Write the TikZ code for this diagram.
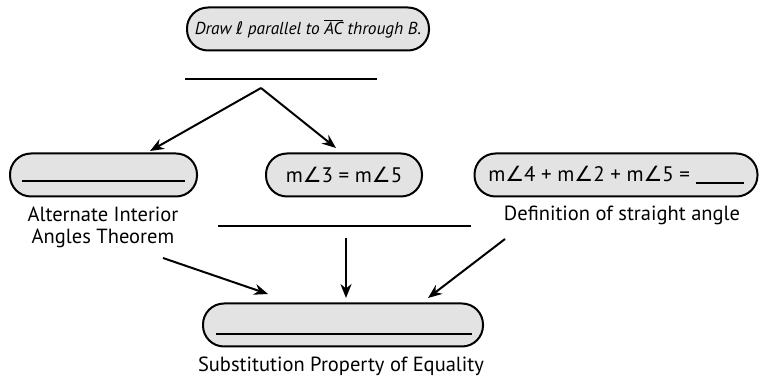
\documentclass[tikz,border=0pt]{standalone}
\usepackage{fontspec}
\setmainfont{PT Sans}
\newfontfamily\symf{DejaVu Sans}
\usetikzlibrary{arrows.meta}
\newcommand{\ang}{{\symf ∠}}
\begin{document}
\begin{tikzpicture}[x=1pt,y=-1pt,
  box/.style={draw,line width=2pt,fill=gray!22,rounded corners=21pt,minimum height=43pt,inner sep=0pt,font=\fontsize{21}{23}\selectfont},
  lbl/.style={align=center,inner sep=0pt,font=\fontsize{20.5}{22}\selectfont},
  blank/.style={line width=1.6pt},
  arr/.style={line width=2pt,-{Stealth[length=14pt,width=11pt]}}]
\useasboundingbox (0,0) rectangle (761,379);
% top
\node[box,minimum width=242pt,font=\fontsize{17.3}{20}\selectfont] (top) at (308,29) {\itshape Draw {\symf\itshape ℓ} parallel to $\overline{\mbox{\itshape AC}}$ through B.};
\coordinate (t1) at (185,79); \coordinate (t2) at (377,79);
\draw[blank] (t1) -- (t2);
\coordinate (apex) at (261,88);
% left box
\node[box,minimum width=187pt] (lb) at (103.5,175) {};
\coordinate (l1) at (22,181); \coordinate (l2) at (185,181);
\draw[blank] (l1) -- (l2);
\node[lbl] (ll) at (103,227) {Alternate Interior\\Angles Theorem};
% middle box
\node[box,minimum width=156pt] (mb) at (344,175) {m\ang3 = m\ang5};
% right box
\node[box,minimum width=283pt] (rb) at (616,175) {m\ang4 + m\ang2 + m\ang5 = \rule[-2pt]{48pt}{1.6pt}};
\node[lbl] (rl) at (622,215) {Definition of straight angle};
% middle line
\coordinate (m1) at (218,226); \coordinate (m2) at (471,226);
\draw[blank] (m1) -- (m2);
% bottom box
\node[box,minimum width=280pt] (bb) at (343,325) {};
\coordinate (b1) at (216,334); \coordinate (b2) at (472,334);
\draw[blank] (b1) -- (b2);
\node[lbl] (bl) at (341,366) {Substitution Property of Equality};
% arrows
\coordinate (al) at (150,151); \coordinate (ar) at (336,148);
\draw[arr] (apex) -- (al);
\draw[arr] (apex) -- (ar);
\coordinate (s1) at (163,258); \coordinate (e1) at (268,294);
\coordinate (s2) at (346,238); \coordinate (e2) at (346,298);
\coordinate (s3) at (505,239); \coordinate (e3) at (428,298);
\draw[arr] (s1) -- (e1);
\draw[arr] (s2) -- (e2);
\draw[arr] (s3) -- (e3);
\end{tikzpicture}
\end{document}
